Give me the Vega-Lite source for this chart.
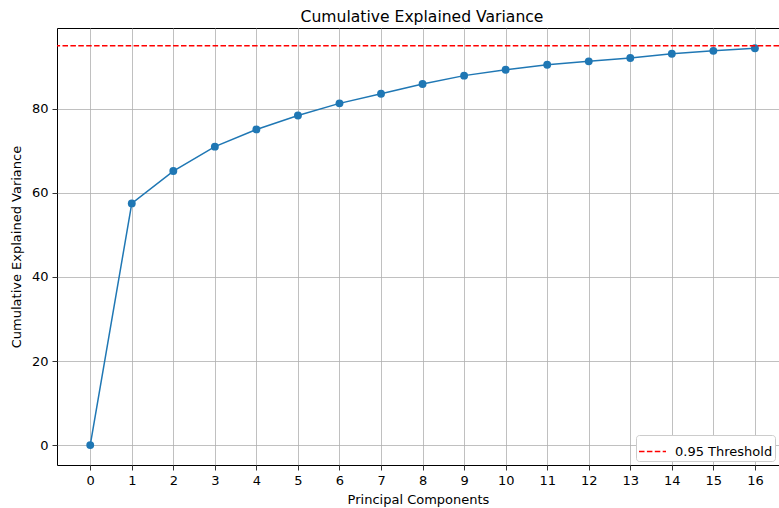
{
  "$schema": "https://vega.github.io/schema/vega-lite/v6.json",
  "width": 722,
  "height": 437,
  "autosize": {"type": "none"},
  "padding": {"left": 57, "top": 28, "right": 0, "bottom": 43},
  "background": "white",
  "title": {"text": "Cumulative Explained Variance", "fontSize": 15.6, "font": "DejaVu Sans", "fontWeight": "normal", "color": "#000000", "anchor": "middle", "frame": "group", "dx": 4, "baseline": "bottom", "offset": -13},
  "datasets": {
    "pts": [
      {"pc": 0, "cev": 0},
      {"pc": 1, "cev": 57.5},
      {"pc": 2, "cev": 65.2},
      {"pc": 3, "cev": 71.0},
      {"pc": 4, "cev": 75.1},
      {"pc": 5, "cev": 78.4},
      {"pc": 6, "cev": 81.3},
      {"pc": 7, "cev": 83.6},
      {"pc": 8, "cev": 85.9},
      {"pc": 9, "cev": 87.9},
      {"pc": 10, "cev": 89.3},
      {"pc": 11, "cev": 90.5},
      {"pc": 12, "cev": 91.3},
      {"pc": 13, "cev": 92.1},
      {"pc": 14, "cev": 93.1},
      {"pc": 15, "cev": 93.8},
      {"pc": 16, "cev": 94.4}
    ],
    "thr": [{"y": 95, "label": "0.95 Threshold"}]
  },
  "layer": [
    {
      "data": {"name": "pts"},
      "mark": {"type": "line", "color": "#1f77b4", "strokeWidth": 1.5, "point": {"filled": true, "size": 62, "color": "#1f77b4", "opacity": 1}},
      "encoding": {
        "x": {"field": "pc", "type": "quantitative", "title": "Principal Components",
              "scale": {"domain": [-0.8, 16.58], "nice": false, "zero": false},
              "axis": {"values": [0,1,2,3,4,5,6,7,8,9,10,11,12,13,14,15,16], "format": "d"}},
        "y": {"field": "cev", "type": "quantitative", "title": "Cumulative Explained Variance",
              "scale": {"domain": [-4.73, 99.23], "nice": false, "zero": false},
              "axis": {"values": [0, 20, 40, 60, 80], "format": "d"}}
      }
    },
    {
      "data": {"name": "thr"},
      "mark": {"type": "rule", "strokeWidth": 1.5, "strokeDash": [5.5, 2.4]},
      "encoding": {
        "y": {"field": "y", "type": "quantitative"},
        "color": {"field": "label", "type": "nominal",
                  "scale": {"range": ["#ff0000"]},
                  "legend": {"title": null, "orient": "none", "legendX": 579, "legendY": 407,
                             "symbolType": "stroke", "symbolSize": 729, "symbolStrokeWidth": 1.5,
                             "symbolDash": [5.5, 2.4], "labelFontSize": 13, "labelFont": "DejaVu Sans",
                             "labelColor": "#000000", "fillColor": "white", "strokeColor": "#cccccc",
                             "cornerRadius": 3, "padding": 2, "labelOffset": 8}}
      }
    }
  ],
  "config": {
    "view": {"stroke": "#000000", "strokeWidth": 1},
    "axis": {
      "domain": false,
      "grid": true,
      "gridColor": "#b0b0b0",
      "gridWidth": 0.8,
      "gridOpacity": 1,
      "tickColor": "#000000",
      "tickSize": 5,
      "tickWidth": 0.8,
      "labelFont": "DejaVu Sans",
      "labelFontSize": 13,
      "labelColor": "#000000",
      "labelPadding": 4,
      "titleFont": "DejaVu Sans",
      "titleFontSize": 13,
      "titleFontWeight": "normal",
      "titleColor": "#000000"
    },
    "axisX": {"titlePadding": 6},
    "axisY": {"titlePadding": 8}
  }
}
